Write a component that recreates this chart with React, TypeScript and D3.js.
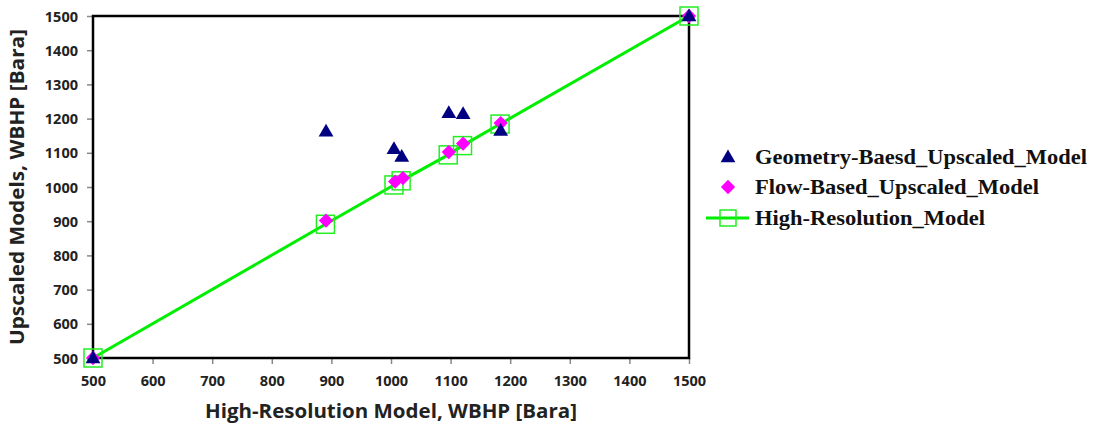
import React, { useEffect, useRef } from 'react';
import * as d3 from 'd3';

const xTicks = [500, 600, 700, 800, 900, 1000, 1100, 1200, 1300, 1400, 1500];
const yTicks = [500, 600, 700, 800, 900, 1000, 1100, 1200, 1300, 1400, 1500];

const geoX = [500, 891, 1005, 1018, 1097, 1121, 1184, 1500];
const geoY = [500, 1163, 1112, 1089, 1217, 1214, 1165, 1500];

const flowX = [500, 891, 1007, 1020, 1097, 1121, 1184, 1500];
const flowY = [500, 902, 1016, 1026, 1102, 1127, 1187, 1500];

const hiX = [500, 890, 1005, 1017, 1096, 1120, 1183, 1500];
const hiY = [500, 891, 1006, 1018, 1094, 1121, 1184, 1500];

const legendLabels = ['Geometry-Baesd_Upscaled_Model', 'Flow-Based_Upscaled_Model', 'High-Resolution_Model'];
const legendWidths = [332, 284, 230];

const W = 1096, H = 427;
const margin = { left: 93, right: 1096 - 689, top: 16, bottom: 427 - 358 };

export default function App() {
  const ref = useRef<SVGSVGElement>(null);

  useEffect(() => {
    const svg = d3.select(ref.current);
    svg.selectAll('*').remove();

    const x = d3.scaleLinear().domain([500, 1500]).range([margin.left, W - margin.right]);
    const y = d3.scaleLinear().domain([500, 1500]).range([H - margin.bottom, margin.top]);
    const tickFont = '"Open Sans", sans-serif';
    const fmt = d3.format('d');

    // ticks
    const gx = svg.append('g').attr('transform', `translate(0,${y(500)})`)
      .call(d3.axisBottom(x).tickValues(xTicks).tickFormat(fmt as any).tickSize(6).tickSizeOuter(0).tickPadding(12));
    gx.select('.domain').remove();
    gx.selectAll('line').attr('stroke', '#888').attr('stroke-width', 1.5);
    gx.selectAll('text').attr('font-family', tickFont).attr('font-weight', 'bold')
      .attr('font-size', 14.5).attr('fill', '#222');

    const gy = svg.append('g').attr('transform', `translate(${x(500)},0)`)
      .call(d3.axisLeft(y).tickValues(yTicks).tickFormat(fmt as any).tickSize(6).tickSizeOuter(0).tickPadding(9));
    gy.select('.domain').remove();
    gy.selectAll('line').attr('stroke', '#888').attr('stroke-width', 1.5);
    gy.selectAll('text').attr('font-family', tickFont).attr('font-weight', 'bold')
      .attr('font-size', 14.5).attr('fill', '#222').attr('dy', '0.35em');

    // frame
    svg.append('rect')
      .attr('x', x(500)).attr('y', y(1500))
      .attr('width', x(1500) - x(500)).attr('height', y(500) - y(1500))
      .attr('fill', 'none').attr('stroke', '#000').attr('stroke-width', 2.5);

    // high-res line
    const hi = hiX.map((v, i) => [v, hiY[i]] as [number, number]);
    svg.append('path')
      .attr('d', d3.line<[number, number]>().x(d => x(d[0])).y(d => y(d[1]))(hi) as string)
      .attr('fill', 'none').attr('stroke', '#00ee00').attr('stroke-width', 3);

    const sq = 18;
    svg.selectAll('.sq').data(hi).enter().append('rect')
      .attr('x', d => x(d[0]) - sq / 2).attr('y', d => y(d[1]) - sq / 2)
      .attr('width', sq).attr('height', sq)
      .attr('fill', 'none').attr('stroke', '#22ee22').attr('stroke-width', 1.5);

    // flow-based diamonds
    const diamond = d3.symbol().type(d3.symbolDiamond2).size(130);
    svg.selectAll('.fl').data(flowX.map((v, i) => [v, flowY[i]])).enter().append('path')
      .attr('d', diamond() as string)
      .attr('transform', d => `translate(${x(d[0])},${y(d[1])})`)
      .attr('fill', '#ff00ff');

    // geometry triangles
    const tri = d3.symbol().type(d3.symbolTriangle).size(95);
    svg.selectAll('.ge').data(geoX.map((v, i) => [v, geoY[i]])).enter().append('path')
      .attr('d', tri() as string)
      .attr('transform', d => `translate(${x(d[0])},${y(d[1]) + 1})`)
      .attr('fill', '#000080');

    // axis titles
    svg.append('text').attr('x', 391).attr('y', 418).attr('text-anchor', 'middle')
      .attr('font-family', tickFont).attr('font-weight', 'bold').attr('font-size', 19)
      .attr('textLength', 372).attr('lengthAdjust', 'spacingAndGlyphs')
      .attr('fill', '#222').text('High-Resolution Model, WBHP [Bara]');
    svg.append('text').attr('transform', `translate(24,${(y(500) + y(1500)) / 2}) rotate(-90)`)
      .attr('text-anchor', 'middle')
      .attr('font-family', tickFont).attr('font-weight', 'bold').attr('font-size', 19)
      .attr('textLength', 316).attr('lengthAdjust', 'spacingAndGlyphs')
      .attr('fill', '#222').text('Upscaled Models, WBHP [Bara]');

    // legend
    const lg = svg.append('g');
    const rowsY = [157, 187, 218];
    const mx = 728;
    lg.append('path').attr('d', tri() as string).attr('transform', `translate(${mx},${rowsY[0] + 1})`).attr('fill', '#000080');
    lg.append('path').attr('d', diamond() as string).attr('transform', `translate(${mx},${rowsY[1]})`).attr('fill', '#ff00ff');
    lg.append('line').attr('x1', 706).attr('x2', 749).attr('y1', rowsY[2]).attr('y2', rowsY[2])
      .attr('stroke', '#00ee00').attr('stroke-width', 3);
    lg.append('rect').attr('x', mx - 8).attr('y', rowsY[2] - 8).attr('width', 16).attr('height', 16)
      .attr('fill', 'none').attr('stroke', '#22ee22').attr('stroke-width', 1.5);
    legendLabels.forEach((t, i) => {
      lg.append('text').attr('x', 755).attr('y', rowsY[i]).attr('dy', '0.35em')
        .attr('font-family', '"Liberation Serif", serif').attr('font-weight', 'bold')
        .attr('font-size', 21).attr('fill', '#111')
        .attr('textLength', legendWidths[i]).attr('lengthAdjust', 'spacingAndGlyphs')
        .text(t);
    });
  }, []);

  return (
    <svg ref={ref} width={W} height={H} style={{ position: 'absolute', left: 0, top: 0, background: '#fff' }} />
  );
}
